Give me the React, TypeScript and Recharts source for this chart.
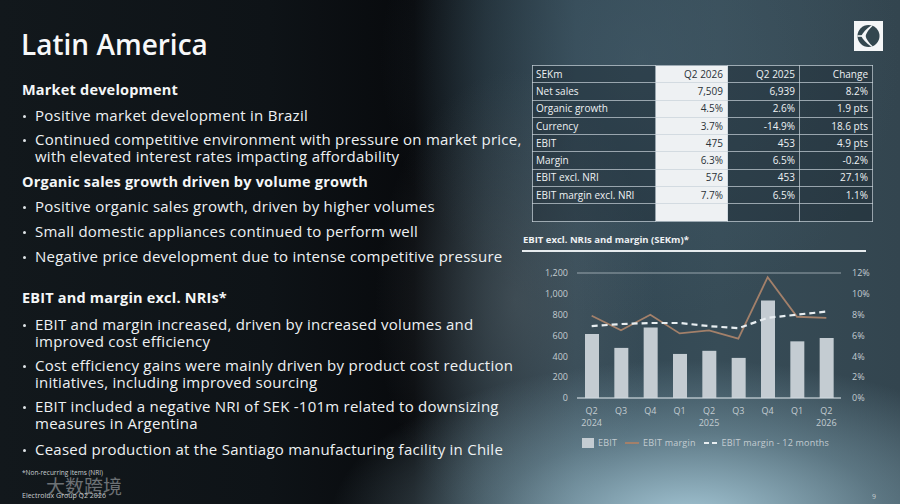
import { Bar, CartesianGrid, ComposedChart, Line, XAxis, YAxis } from 'recharts';

// chart data
const quarters = ['Q2', 'Q3', 'Q4', 'Q1', 'Q2', 'Q3', 'Q4', 'Q1', 'Q2'];
const yearLabels = ['2024', '', '', '', '2025', '', '', '', '2026'];
const ebit = [615, 481, 678, 423, 453, 385, 936, 544, 576];
const ebitMargin = [7.9, 6.5, 8.0, 6.2, 6.5, 5.7, 11.6, 7.8, 7.7];
const ebitMargin12m = [6.9, 7.1, 7.2, 7.2, 6.9, 6.7, 7.7, 8.0, 8.3];
const leftTicks = [0, 200, 400, 600, 800, 1000, 1200];
const rightTicks = [0, 2, 4, 6, 8, 10, 12];

// KPI table
const tableHead = ['SEKm', 'Q2 2026', 'Q2 2025', 'Change'];
const tableLabels = ['Net sales', 'Organic growth', 'Currency', 'EBIT', 'Margin', 'EBIT excl. NRI', 'EBIT margin excl. NRI', ''];
const colQ2_2026 = ['7,509', '4.5%', '3.7%', '475', '6.3%', '576', '7.7%', ''];
const colQ2_2025 = ['6,939', '2.6%', '-14.9%', '453', '6.5%', '453', '6.5%', ''];
const colChange = ['8.2%', '1.9 pts', '18.6 pts', '4.9 pts', '-0.2%', '27.1%', '1.1%', ''];

const data = quarters.map((q, i) => ({
  id: `${q}-${i}`,
  quarter: q,
  year: yearLabels[i],
  ebit: ebit[i],
  margin: ebitMargin[i],
  margin12m: ebitMargin12m[i],
}));

const FONT = '"Open Sans", Lato, sans-serif';
const TICK = '#c3ccd1';
const BAR = '#c4ccd2';
const BROWN = '#a3806a';
const DASH = '#e8eef1';

const QuarterTick = ({ x, y, index }: any) => (
  <g transform={`translate(${x},${y})`}>
    <text textAnchor="middle" dy={7.5} fill={TICK} fontSize={9} fontFamily={FONT}>
      {quarters[index]}
    </text>
    {yearLabels[index] && (
      <text textAnchor="middle" dy={19.5} fill={TICK} fontSize={9} fontFamily={FONT}>
        {yearLabels[index]}
      </text>
    )}
  </g>
);

const Logo = () => (
  <svg width={29} height={30} viewBox="0 0 29 30" style={{ position: 'absolute', left: 854, top: 21 }}>
    <rect width={29} height={30} fill="#f4f6f7" />
    <circle cx={14.5} cy={15} r={11} fill="#33474f" />
    <path d="M17.5 4.2 C12 8 9 11.5 7.2 15 C9 18.5 12 22 17.5 25.8 L19 25.5 C15 22 12.5 18.5 11.5 15 C12.5 11.5 15 8 19 4.5 Z" fill="#f4f6f7" />
    <path d="M3.5 15 L11.5 15" stroke="#f4f6f7" strokeWidth={1.6} />
  </svg>
);

const Bullet = ({ top, lines }: { top: number; lines: string[] }) => (
  <div
    style={{
      position: 'absolute',
      left: 22,
      top,
      color: '#eef1f3',
      fontSize: 15,
      letterSpacing: 0.25,
      lineHeight: '17px',
    }}
  >
    <span
      style={{ position: 'absolute', left: 1, top: 8, width: 3, height: 3, borderRadius: 2, background: '#dfe4e7' }}
    />
    <div style={{ marginLeft: 13 }}>
      {lines.map((l) => (
        <div key={l} style={{ whiteSpace: 'nowrap' }}>{l}</div>
      ))}
    </div>
  </div>
);

const Heading = ({ top, text }: { top: number; text: string }) => (
  <div
    style={{
      position: 'absolute',
      left: 22,
      top,
      color: '#f4f6f7',
      fontSize: 14.5,
      letterSpacing: 0.2,
      fontWeight: 700,
      whiteSpace: 'nowrap',
      lineHeight: '18px',
    }}
  >
    {text}
  </div>
);

const KpiTable = () => {
  const widths = [123, 72, 72, 73];
  const rows = [tableHead, ...tableLabels.map((l, i) => [l, colQ2_2026[i], colQ2_2025[i], colChange[i]])];
  return (
    <table
      style={{
        position: 'absolute',
        left: 532,
        top: 65,
        borderCollapse: 'collapse',
        fontFamily: FONT,
        fontSize: 10,
        tableLayout: 'fixed',
      }}
    >
      <tbody>
        {rows.map((r, ri) => (
          <tr key={ri} style={{ height: 17.3 }}>
            {r.map((c, ci) => (
              <td
                key={ci}
                style={{
                  width: widths[ci],
                  padding: '0 4px 0 3px',
                  border: '1px solid rgba(200,210,216,0.7)',
                  background: ci === 1 ? '#eef1f3' : 'rgba(20,32,40,0.35)',
                  color: ci === 1 ? '#2a3238' : '#eef1f3',
                  textAlign: ci === 0 ? 'left' : 'right',
                  whiteSpace: 'nowrap',
                  boxSizing: 'border-box',
                  lineHeight: '15px',
                }}
              >
                {c}
              </td>
            ))}
          </tr>
        ))}
      </tbody>
    </table>
  );
};

const Legend = () => (
  <div
    style={{
      position: 'absolute',
      left: 582,
      top: 436,
      display: 'flex',
      alignItems: 'center',
      fontFamily: FONT,
      fontSize: 9,
      color: TICK,
      whiteSpace: 'nowrap',
      letterSpacing: 0.2,
    }}
  >
    <span style={{ width: 12, height: 10, background: BAR, display: 'inline-block', marginRight: 4 }} />
    <span style={{ marginRight: 8 }}>EBIT</span>
    <span style={{ width: 14, height: 2, background: BROWN, display: 'inline-block', marginRight: 4 }} />
    <span style={{ marginRight: 8 }}>EBIT margin</span>
    <svg width={14} height={4} style={{ marginRight: 4 }}>
      <line x1={0} x2={14} y1={2} y2={2} stroke={DASH} strokeWidth={2} strokeDasharray="5 3" />
    </svg>
    <span>EBIT margin - 12 months</span>
  </div>
);

export default function App() {
  return (
    <div
      style={{
        position: 'fixed',
        left: 0,
        top: 0,
        width: 900,
        height: 504,
        overflow: 'hidden',
        fontFamily: FONT,
        background: [
          'radial-gradient(ellipse 360px 160px at 690px 520px, rgba(170,205,220,0.95), rgba(140,175,190,0.45) 55%, rgba(0,0,0,0) 100%)',
          'radial-gradient(ellipse 140px 230px at 515px 300px, rgba(110,120,126,0.35), rgba(0,0,0,0) 100%)',
          'radial-gradient(ellipse 260px 260px at 640px 60px, rgba(70,95,110,0.5), rgba(0,0,0,0) 100%)',
          'linear-gradient(90deg, #12181c 0%, #0e1317 30%, #080a0d 46%, #1e2b33 54%, #324753 64%, #374c57 80%, #33454f 100%)',
        ].join(','),
      }}
    >
      <div style={{ position: 'absolute', left: 21, top: 26, fontSize: 28, fontWeight: 600, color: '#f7f8f9', whiteSpace: 'nowrap', lineHeight: '36px' }}>
        Latin America
      </div>
      <Logo />

      <Heading top={81} text="Market development" />
      <Bullet top={107} lines={['Positive market development in Brazil']} />
      <Bullet top={131} lines={['Continued competitive environment with pressure on market price,', 'with elevated interest rates impacting affordability']} />
      <Heading top={173} text="Organic sales growth driven by volume growth" />
      <Bullet top={198} lines={['Positive organic sales growth, driven by higher volumes']} />
      <Bullet top={223} lines={['Small domestic appliances continued to perform well']} />
      <Bullet top={248} lines={['Negative price development due to intense competitive pressure']} />
      <Heading top={289} text="EBIT and margin excl. NRIs*" />
      <Bullet top={316} lines={['EBIT and margin increased, driven by increased volumes and', 'improved cost efficiency']} />
      <Bullet top={357} lines={['Cost efficiency gains were mainly driven by product cost reduction', 'initiatives, including improved sourcing']} />
      <Bullet top={398} lines={['EBIT included a negative NRI of SEK -101m related to downsizing', 'measures in Argentina']} />
      <Bullet top={441} lines={['Ceased production at the Santiago manufacturing facility in Chile']} />

      <div style={{ position: 'absolute', left: 22, top: 469, fontSize: 6.5, color: '#c8cdd0', whiteSpace: 'nowrap', lineHeight: '8px' }}>
        *Non-recurring items (NRI)
      </div>
      <div
        style={{
          position: 'absolute',
          left: 46,
          top: 476,
          fontSize: 19,
          lineHeight: '20px',
          color: 'rgba(200,204,208,0.5)',
          fontFamily: '"Noto Sans CJK SC", sans-serif',
          whiteSpace: 'nowrap',
        }}
      >
        大数跨境
      </div>
      <div style={{ position: 'absolute', left: 22, top: 491, fontSize: 7, color: '#c8cdd0', whiteSpace: 'nowrap', lineHeight: '9px' }}>
        Electrolux Group Q2 2026
      </div>
      <div style={{ position: 'absolute', left: 872, top: 492, fontSize: 7, color: '#c8cdd0', lineHeight: '9px' }}>9</div>

      <KpiTable />

      <div style={{ position: 'absolute', left: 523, top: 233, fontSize: 9.5, fontWeight: 700, color: '#eef1f3', whiteSpace: 'nowrap' }}>
        EBIT excl. NRIs and margin (SEKm)*
      </div>
      <div style={{ position: 'absolute', left: 522, top: 250, width: 344, height: 1.5, background: '#e6ebee' }} />

      <div style={{ position: 'absolute', left: 515, top: 255 }}>
        <ComposedChart width={355} height={173} data={data} margin={{ top: 18, right: 0, bottom: 0, left: 0 }} barSize={14}>
          <CartesianGrid vertical={false} stroke="rgba(215,224,229,0.6)" strokeWidth={1} />
          <XAxis
            dataKey="id"
            height={30}
            axisLine={{ stroke: 'rgba(215,224,229,0.75)' }}
            tickLine={false}
            interval={0}
            tick={<QuarterTick />}
          />
          <YAxis
            yAxisId="left"
            width={62}
            domain={[0, 1200]}
            ticks={leftTicks}
            axisLine={false}
            tickLine={false}
            tickMargin={3}
            tick={{ fill: TICK, fontSize: 9, fontFamily: FONT }}
            tickFormatter={(v: number) => v.toLocaleString('en-US')}
          />
          <YAxis
            yAxisId="right"
            orientation="right"
            width={29}
            domain={[0, 12]}
            ticks={rightTicks}
            axisLine={false}
            tickLine={false}
            tickMargin={5}
            tick={{ fill: TICK, fontSize: 9, fontFamily: FONT, textAnchor: 'start' }}
            tickFormatter={(v: number) => `${v}%`}
          />
          <Bar yAxisId="left" dataKey="ebit" fill={BAR} isAnimationActive={false} />
          <Line yAxisId="right" dataKey="margin" type="linear" stroke={BROWN} strokeWidth={1.8} dot={false} isAnimationActive={false} />
          <Line
            yAxisId="right"
            dataKey="margin12m"
            type="linear"
            stroke={DASH}
            strokeWidth={2.2}
            strokeDasharray="6 4"
            dot={false}
            isAnimationActive={false}
          />
        </ComposedChart>
      </div>
      <Legend />
    </div>
  );
}
